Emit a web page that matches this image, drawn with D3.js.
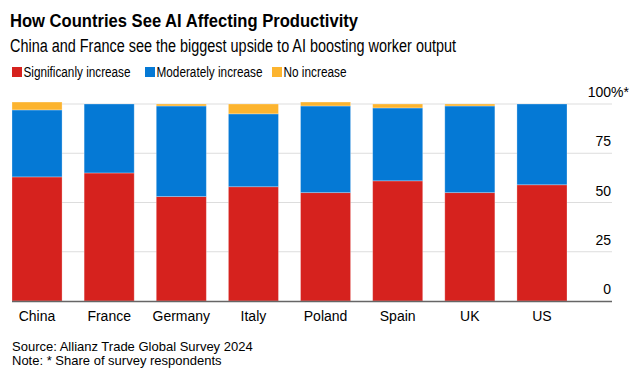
<!DOCTYPE html>
<html lang="en">
<head>
    <meta charset="UTF-8">
    <title>How Countries See AI Affecting Productivity</title>
    <script src="https://d3js.org/d3.v7.min.js"></script>
    <style>
        body { margin: 0; background: #fff; }
        text { font-family: "Liberation Sans", Arial, sans-serif; }
    </style>
</head>
<body>
<script>

    const width = 643;
    const height = 385;

    const countries = ['China','France','Germany','Italy','Poland','Spain','UK','US'];
    const significantly = [63, 65, 53, 58, 55, 61, 55, 59];
    const moderately = [34, 35, 46, 37, 44, 37, 44, 41];
    const noIncrease = [4, 0, 1, 5, 2, 2, 1, 0];

    const seriesNames = ['Significanly increase','Moderately increase','No increase'];
    const colors = ['#d6221e','#0579d5','#fcb42f'];
    const ticks = [0, 25, 50, 75, 100];

    const rows = countries.map((c, i) => ({
        country: c,
        s0: significantly[i],
        s1: moderately[i],
        s2: noIncrease[i]
    }));

    const stack = d3.stack().keys(['s0','s1','s2']);
    const stacked = stack(rows);

    const x = d3.scaleBand().domain(countries).range([12, 567]).paddingInner(0.306);
    const y = d3.scaleLinear().domain([0, 100]).range([301, 104]);

    const svg = d3.select("body").append("svg").attr("width", width).attr("height", height);

    // titles (the original typeface is narrower, so squeeze to its width)
    svg.append("text").attr("x", 10).attr("y", 26.5)
        .attr("font-size", 19).attr("font-weight", "bold").attr("fill", "#000")
        .attr("textLength", 348).attr("lengthAdjust", "spacingAndGlyphs")
        .text("How Countries See AI Affecting Productivity");
    svg.append("text").attr("x", 10).attr("y", 51.5)
        .attr("font-size", 18).attr("fill", "#000")
        .attr("textLength", 446).attr("lengthAdjust", "spacingAndGlyphs")
        .text("China and France see the biggest upside to AI boosting worker output");

    // legend
    const legendX = [12, 145, 272];
    const legendW = [107, 106, 63];
    const legend = svg.append("g");
    seriesNames.forEach((name, i) => {
        legend.append("rect").attr("x", legendX[i]).attr("y", 67).attr("width", 10).attr("height", 10)
            .attr("fill", colors[i]);
        legend.append("text").attr("x", legendX[i] + 11.5).attr("y", 76.5)
            .attr("font-size", 14).attr("fill", "#000")
            .attr("textLength", legendW[i]).attr("lengthAdjust", "spacingAndGlyphs")
            .text(name);
    });

    // grid
    svg.append("g").selectAll("line").data(ticks.filter(t => t > 0)).join("line")
        .attr("x1", 12).attr("x2", 612)
        .attr("y1", d => y(d)).attr("y2", d => y(d))
        .attr("stroke", "#dddddd").attr("stroke-width", 1);

    // bars
    svg.append("g").selectAll("g").data(stacked).join("g")
        .attr("fill", (d, i) => colors[i])
        .selectAll("rect").data(d => d).join("rect")
        .attr("x", d => x(d.data.country))
        .attr("width", x.bandwidth())
        .attr("y", d => y(d[1]))
        .attr("height", d => y(d[0]) - y(d[1]))
        .attr("stroke", "rgba(255,255,255,0.35)")
        .attr("stroke-width", 0.8);

    // baseline
    svg.append("line").attr("x1", 12).attr("x2", 612).attr("y1", y(0) + 0.5).attr("y2", y(0) + 0.5)
        .attr("stroke", "#666").attr("stroke-width", 1.5);

    // y tick labels
    svg.append("g").selectAll("text").data(ticks).join("text")
        .attr("x", 611).attr("y", d => y(d) - 7)
        .attr("text-anchor", "end").attr("font-size", 14).attr("fill", "#000")
        .text(d => d);
    svg.append("text").attr("x", 611).attr("y", y(100) - 7)
        .attr("font-size", 14).attr("fill", "#000").text("%*");

    // x labels
    svg.append("g").selectAll("text").data(countries).join("text")
        .attr("x", d => x(d) + x.bandwidth() / 2).attr("y", 321)
        .attr("text-anchor", "middle").attr("font-size", 14).attr("fill", "#000")
        .text(d => d);

    // footer
    svg.append("text").attr("x", 12).attr("y", 351)
        .attr("font-size", 13).attr("fill", "#000")
        .text("Source: Allianz Trade Global Survey 2024");
    svg.append("text").attr("x", 12).attr("y", 365)
        .attr("font-size", 13).attr("fill", "#000")
        .text("Note: * Share of survey respondents");

</script>
</body>
</html>
